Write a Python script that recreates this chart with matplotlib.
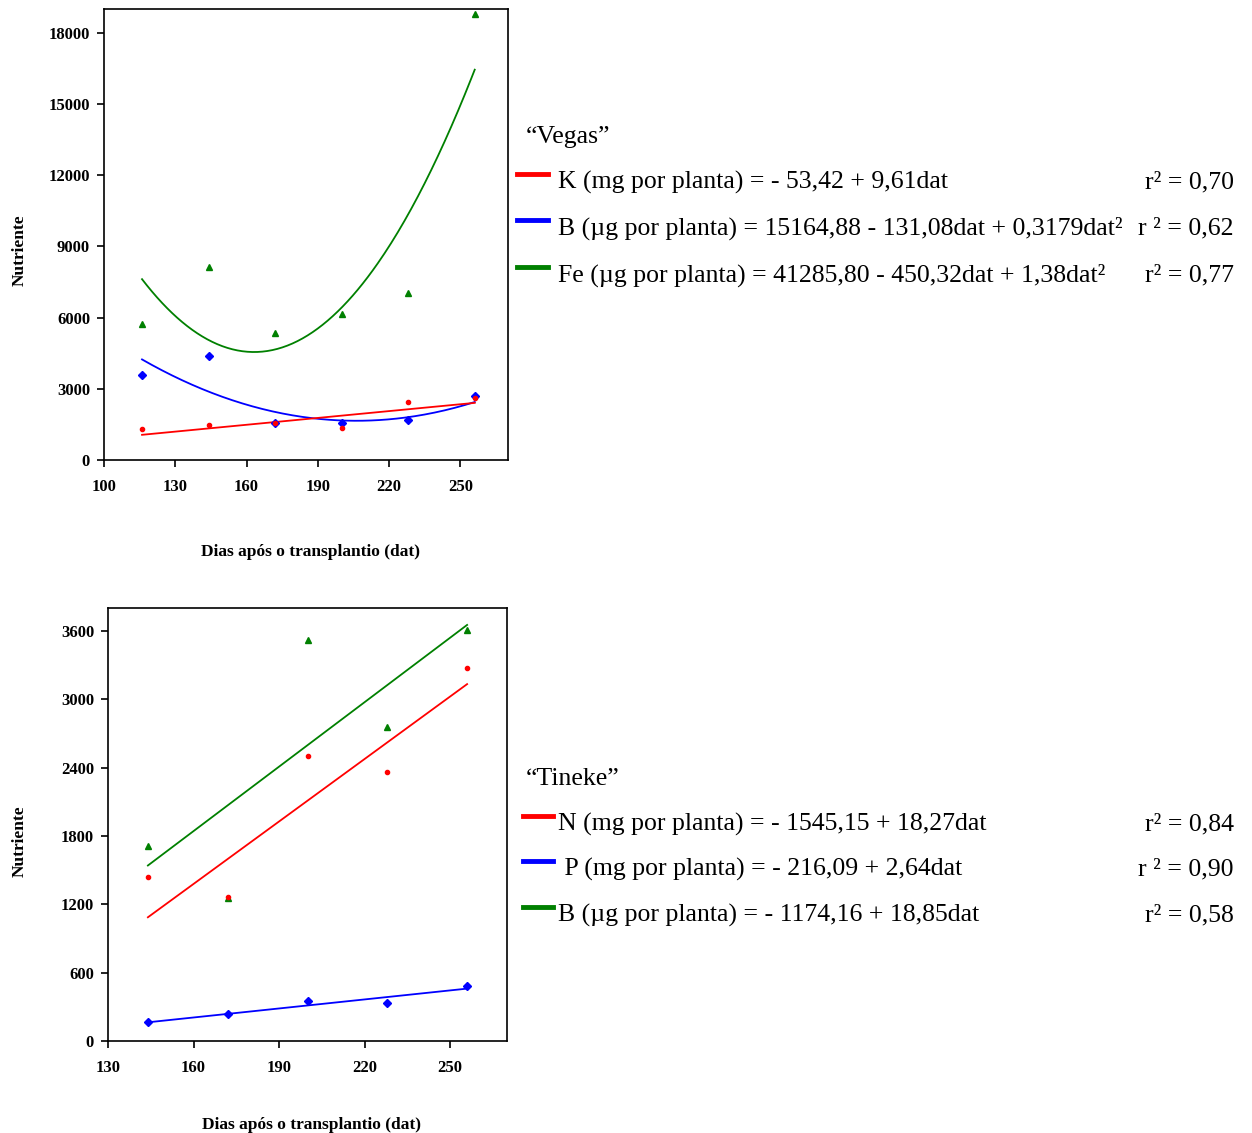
import matplotlib.pyplot as plt
import numpy as np
from matplotlib.lines import Line2D

plt.rcParams['font.family'] = ['Liberation Serif', 'DejaVu Serif']

# ---- data ----
# "Vegas"
dat_vegas = [116, 144, 172, 200, 228, 256]
k_vegas = [1300, 1480, 1550, 1340, 2450, 2620]
b_vegas = [3590, 4380, 1550, 1550, 1690, 2680]
fe_vegas = [5720, 8150, 5350, 6150, 7030, 18790]

# "Tineke"
dat_tineke = [144, 172, 200, 228, 256]
n_tineke = [1440, 1260, 2505, 2357, 3270]
p_tineke = [167, 241, 349, 332, 487]
b_tineke = [1710, 1258, 3521, 2759, 3603]

# regression coefficients (highest power first)
k_coef = [9.61, -53.42]
b_coef = [0.3179, -131.08, 15164.88]
fe_coef = [1.38, -450.32, 41285.80]
n_coef = [18.27, -1545.15]
p_coef = [2.64, -216.09]
bt_coef = [18.85, -1174.16]

# legend texts
vegas_eq = ['K (mg por planta) = - 53,42 + 9,61dat',
            'B (µg por planta) = 15164,88 - 131,08dat + 0,3179dat²',
            'Fe (µg por planta) = 41285,80 - 450,32dat + 1,38dat²']
vegas_r2 = ['r² = 0,70', 'r ² = 0,62', 'r² = 0,77']
tineke_eq = ['N (mg por planta) = - 1545,15 + 18,27dat',
             ' P (mg por planta) = - 216,09 + 2,64dat',
             'B (µg por planta) = - 1174,16 + 18,85dat']
tineke_r2 = ['r² = 0,84', 'r ² = 0,90', 'r² = 0,58']

RED, BLUE, GREEN = '#ff0000', '#0000ff', '#008000'
W, H = 1252, 1133

fig = plt.figure(figsize=(W / 100, H / 100), dpi=100)


def fx(x):
    return x / W


def fy(y):
    return 1 - y / H


def style_axes(ax):
    for s in ax.spines.values():
        s.set_linewidth(1.2)
        s.set_color('black')
    ax.tick_params(direction='out', length=5, width=1.2, labelsize=12)
    for lab in ax.get_xticklabels() + ax.get_yticklabels():
        lab.set_fontweight('bold')
    ax.tick_params(axis='x', pad=9)
    ax.tick_params(axis='y', pad=5)


# ---------------- top: Vegas ----------------
ax1 = fig.add_axes([fx(104), fy(460), (508 - 104) / W, (460 - 9) / H])
xx = np.linspace(min(dat_vegas), max(dat_vegas), 200)
ax1.plot(xx, np.polyval(fe_coef, xx), color=GREEN, lw=1.3)
ax1.plot(xx, np.polyval(b_coef, xx), color=BLUE, lw=1.3)
ax1.plot(xx, np.polyval(k_coef, xx), color=RED, lw=1.3)
ax1.plot(dat_vegas, fe_vegas, '^', color=GREEN, ms=4.5, ls='none')
ax1.plot(dat_vegas, b_vegas, 'D', color=BLUE, ms=4.5, ls='none')
ax1.plot(dat_vegas, k_vegas, 'o', color=RED, ms=3, ls='none')
ax1.set_xlim(100, 270)
ax1.set_ylim(0, 19000)
ax1.set_xticks(np.arange(100, 251, 30))
ax1.set_yticks(np.arange(0, 18001, 3000))
style_axes(ax1)
ax1.set_xlabel('Dias após o transplantio (dat)', fontsize=12.5, fontweight='bold')
ax1.set_ylabel('Nutriente', fontsize=12.5, fontweight='bold')
ax1.xaxis.set_label_coords(0.51, -0.187)
ax1.yaxis.set_label_coords(-0.19, 0.465)

# ---------------- bottom: Tineke ----------------
ax2 = fig.add_axes([fx(108), fy(1041), (507 - 108) / W, (1041 - 608) / H])
xx = np.linspace(min(dat_tineke), max(dat_tineke), 200)
ax2.plot(xx, np.polyval(bt_coef, xx), color=GREEN, lw=1.3)
ax2.plot(xx, np.polyval(n_coef, xx), color=RED, lw=1.3)
ax2.plot(xx, np.polyval(p_coef, xx), color=BLUE, lw=1.3)
ax2.plot(dat_tineke, b_tineke, '^', color=GREEN, ms=4.5, ls='none')
ax2.plot(dat_tineke, n_tineke, 'o', color=RED, ms=3, ls='none')
ax2.plot(dat_tineke, p_tineke, 'D', color=BLUE, ms=4.5, ls='none')
ax2.set_xlim(130, 270)
ax2.set_ylim(0, 3800)
ax2.set_xticks(np.arange(130, 251, 30))
ax2.set_yticks(np.arange(0, 3601, 600))
style_axes(ax2)
ax2.set_xlabel('Dias após o transplantio (dat)', fontsize=12.5, fontweight='bold')
ax2.set_ylabel('Nutriente', fontsize=12.5, fontweight='bold')
ax2.xaxis.set_label_coords(0.511, -0.176)
ax2.yaxis.set_label_coords(-0.2, 0.462)


# ---------------- equation legends ----------------
def eq_block(title, ty, rows, r2s, ys, line_x, text_x, colors):
    fig.text(fx(526), fy(ty), title, fontsize=18.5, va='center', ha='left')
    for eq, r2, y, c in zip(rows, r2s, ys, colors):
        fig.add_artist(Line2D([fx(line_x[0]), fx(line_x[1])], [fy(y - 8), fy(y - 8)],
                              color=c, lw=3.5))
        fig.text(fx(text_x), fy(y), eq, fontsize=18.5, va='center', ha='left')
        fig.text(fx(1234), fy(y), r2, fontsize=18.5, va='center', ha='right')


eq_block('“Vegas”', 137, vegas_eq, vegas_r2, [182, 228, 275],
         (517, 548), 558, [RED, BLUE, GREEN])
eq_block('“Tineke”', 779, tineke_eq, tineke_r2, [824, 869, 915],
         (523, 553), 558, [RED, BLUE, GREEN])

fig.savefig('out.png', dpi=100)
